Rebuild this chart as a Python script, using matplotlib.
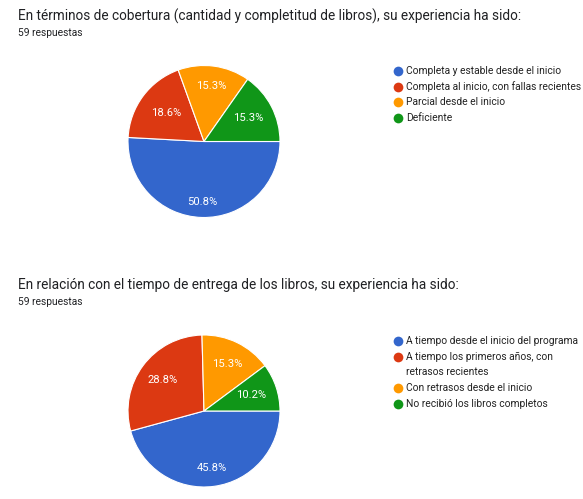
import matplotlib
matplotlib.use("Agg")
import matplotlib.pyplot as plt
import numpy as np

plt.rcParams['font.family'] = ['Roboto', 'DejaVu Sans']

# ---- data ----
title1 = "En términos de cobertura (cantidad y completitud de libros), su experiencia ha sido:"
sub1 = "59 respuestas"
labels1 = ["Completa y estable desde el inicio",
           "Completa al inicio, con fallas recientes",
           "Parcial desde el inicio",
           "Deficiente"]
counts1 = [30, 11, 9, 9]

title2 = "En relación con el tiempo de entrega de los libros, su experiencia ha sido:"
sub2 = "59 respuestas"
labels2 = ["A tiempo desde el inicio del programa",
           "A tiempo los primeros años, con\nretrasos recientes",
           "Con retrasos desde el inicio",
           "No recibió los libros completos"]
counts2 = [27, 17, 9, 6]

# ---- style ----
colors = ["#3366CC", "#DC3912", "#FF9900", "#109618"]
label_r1 = [0.79, 0.62, 0.74, 0.66]
label_r2 = [0.76, 0.675, 0.69, 0.65]

W, H = 583, 499
fig = plt.figure(figsize=(W / 100, H / 100), dpi=100)
fig.patch.set_facecolor("white")

# overlay axes in pixel coordinates
ov = fig.add_axes([0, 0, 1, 1])
ov.set_xlim(0, W)
ov.set_ylim(H, 0)
ov.axis("off")


def draw_pie(cx, cy, r, counts, lrad):
    ax = fig.add_axes([(cx - r) / W, (H - cy - r) / H, 2 * r / W, 2 * r / H])
    wedges, _, autos = ax.pie(counts, colors=colors, startangle=0, counterclock=False,
                              radius=1, autopct="%1.1f%%", pctdistance=0.7,
                              wedgeprops=dict(edgecolor="white", linewidth=0.8),
                              textprops=dict(color="white", fontsize=8.1))
    for w, t, lr in zip(wedges, autos, lrad):
        mid = np.deg2rad((w.theta1 + w.theta2) / 2)
        t.set_position((lr * np.cos(mid), lr * np.sin(mid)))
    ax.set_xlim(-1, 1)
    ax.set_ylim(-1, 1)
    ax.set_aspect("auto")
    ax.axis("off")


def draw_legend(x0, y0, step, labels):
    y = y0
    for lab, col in zip(labels, colors):
        ov.plot([x0], [y], marker="o", markersize=7, color=col, markeredgewidth=0, zorder=5)
        lines = lab.split("\n")
        for i, ln in enumerate(lines):
            ov.text(x0 + 8.5, y + i * step, ln, fontsize=7.4, color="#222222",
                    va="center", ha="left")
        y += step * len(lines)


# chart 1
ov.text(18.5, 20.5, title1, fontsize=9.8, color="#202124", va="baseline", ha="left")
ov.text(18.5, 35.7, sub1, fontsize=7.4, color="#202124", va="baseline", ha="left")
draw_pie(204, 141.5, 76, counts1, label_r1)
draw_legend(397.5, 71, 15.7, labels1)

# chart 2
ov.text(18.5, 288.5, title2, fontsize=9.8, color="#202124", va="baseline", ha="left")
ov.text(18.5, 305, sub2, fontsize=7.4, color="#202124", va="baseline", ha="left")
draw_pie(204, 411, 76, counts2, label_r2)
draw_legend(397.5, 341, 15.7, labels2)

fig.savefig("out.png", dpi=100, facecolor="white")
